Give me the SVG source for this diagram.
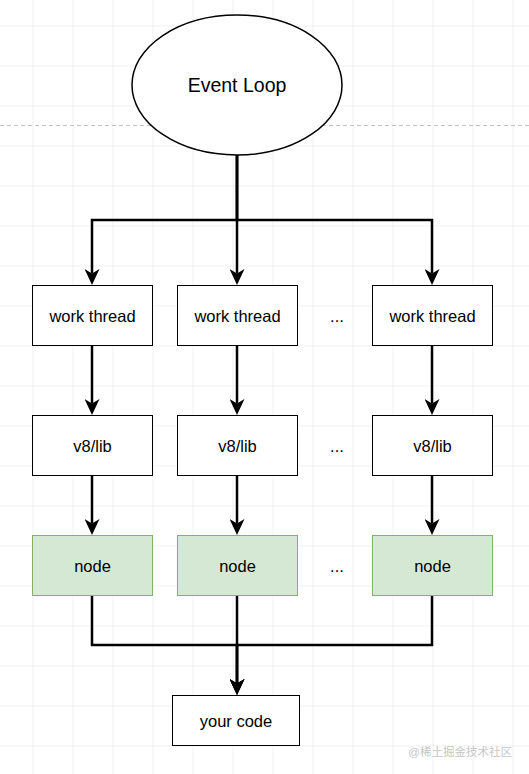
<svg xmlns="http://www.w3.org/2000/svg" width="529" height="774" viewBox="0 0 529 774">
<defs>
<pattern id="grid" x="32.5" y="25.5" width="40" height="40" patternUnits="userSpaceOnUse">
<path d="M0,0 H40 M0,0 V40" fill="none" stroke="#e1e1e1" stroke-width="1"/>
</pattern>
<marker id="arr" markerUnits="userSpaceOnUse" viewBox="0 0 16 15" refX="4.5" refY="7.5" markerWidth="16" markerHeight="15" orient="auto">
<path d="M0,0 L16,7.5 L0,15 L4.5,7.5 Z" fill="#000"/>
</marker>
</defs>
<style>
.lbl{font-family:"Liberation Sans",Arial,Helvetica,sans-serif;font-size:16.5px;fill:#000;text-anchor:middle}
.box{fill:#fff;stroke:#000;stroke-width:1}
.green{fill:#d5e8d4;stroke:#82b366;stroke-width:1}
.edge{fill:none;stroke:#000;stroke-width:2.5}
</style>
<rect x="0" y="0" width="529" height="774" fill="#fff"/>
<rect x="0" y="0" width="529" height="774" fill="url(#grid)"/>
<line x1="0" y1="125.5" x2="529" y2="125.5" stroke="#c4c4c4" stroke-width="1" stroke-dasharray="4 3"/>

<g id="connectors">
<path class="edge" d="M237,155 V220 H92 V273.5" marker-end="url(#arr)"/>
<path class="edge" d="M237,155 V273.5" marker-end="url(#arr)"/>
<path class="edge" d="M237,155 V220 H432 V273.5" marker-end="url(#arr)"/>
<path class="edge" d="M92,345 V403.5" marker-end="url(#arr)"/>
<path class="edge" d="M237,345 V403.5" marker-end="url(#arr)"/>
<path class="edge" d="M432,345 V403.5" marker-end="url(#arr)"/>
<path class="edge" d="M92,475 V523.5" marker-end="url(#arr)"/>
<path class="edge" d="M237,475 V523.5" marker-end="url(#arr)"/>
<path class="edge" d="M432,475 V523.5" marker-end="url(#arr)"/>
<path class="edge" d="M92,595 V645 H237 V683.5" marker-end="url(#arr)"/>
<path class="edge" d="M237,595 V683.5" marker-end="url(#arr)"/>
<path class="edge" d="M432,595 V645 H237 V683.5" marker-end="url(#arr)"/>
</g>

<g id="event-loop">
<ellipse cx="237" cy="85" rx="105" ry="70" fill="#fff" stroke="#000" stroke-width="1.5"/>
<text class="lbl" x="237" y="92" style="font-size:19.5px">Event Loop</text>
</g>

<g id="work-thread-1"><rect class="box" x="32.5" y="285.5" width="120" height="60"/><text class="lbl" x="92.5" y="321.5">work thread</text></g>
<g id="work-thread-2"><rect class="box" x="177.5" y="285.5" width="120" height="60"/><text class="lbl" x="237.5" y="321.5">work thread</text></g>
<g id="work-thread-3"><rect class="box" x="372.5" y="285.5" width="120" height="60"/><text class="lbl" x="432.5" y="321.5">work thread</text></g>
<g id="dots-1"><text class="lbl" x="337" y="322">...</text></g>

<g id="v8-1"><rect class="box" x="32.5" y="415.5" width="120" height="60"/><text class="lbl" x="92.5" y="451.5">v8/lib</text></g>
<g id="v8-2"><rect class="box" x="177.5" y="415.5" width="120" height="60"/><text class="lbl" x="237.5" y="451.5">v8/lib</text></g>
<g id="v8-3"><rect class="box" x="372.5" y="415.5" width="120" height="60"/><text class="lbl" x="432.5" y="451.5">v8/lib</text></g>
<g id="dots-2"><text class="lbl" x="337" y="452">...</text></g>

<g id="node-1"><rect class="green" x="32.5" y="535.5" width="120" height="60"/><text class="lbl" x="92.5" y="571.5">node</text></g>
<g id="node-2"><rect class="green" x="177.5" y="535.5" width="120" height="60"/><text class="lbl" x="237.5" y="571.5">node</text></g>
<g id="node-3"><rect class="green" x="372.5" y="535.5" width="120" height="60"/><text class="lbl" x="432.5" y="571.5">node</text></g>
<g id="dots-3"><text class="lbl" x="337" y="572">...</text></g>

<g id="your-code"><rect class="box" x="172.5" y="695.5" width="127" height="50"/><text class="lbl" x="236" y="726.5">your code</text></g>

<text x="512" y="756" font-family="'Liberation Sans','Noto Sans CJK SC',sans-serif" font-size="11.5" fill="#c6c6c6" text-anchor="end">@稀土掘金技术社区</text>
</svg>
